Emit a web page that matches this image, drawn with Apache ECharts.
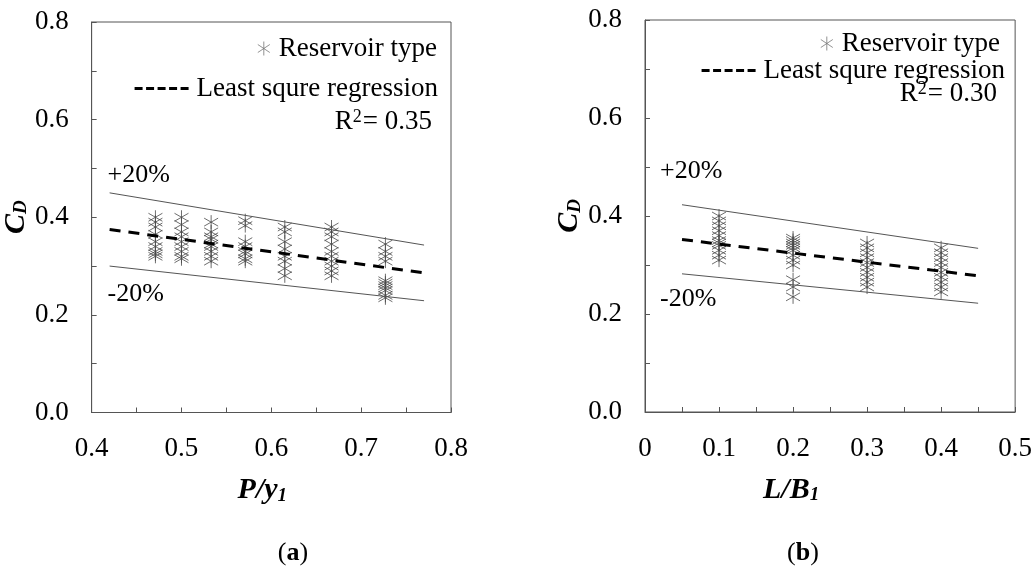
<!DOCTYPE html>
<html>
<head>
<meta charset="utf-8">
<script src="https://cdn.jsdelivr.net/npm/echarts@6/dist/echarts.min.js"></script>
<style>html,body{margin:0;padding:0;background:#fff}#c{width:1035px;height:572px}</style>
</head>
<body>
<div id="c"></div>
<script>
// ---------- DATA ----------
// Panel (a): C_D vs P/y1
const xA = [0.471, 0.5, 0.533, 0.571, 0.615, 0.667, 0.727];
const cdA = [
  [0.40, 0.39, 0.38, 0.365, 0.35, 0.34, 0.33, 0.325, 0.32],
  [0.40, 0.385, 0.37, 0.36, 0.35, 0.34, 0.33, 0.32, 0.315],
  [0.39, 0.37, 0.36, 0.355, 0.345, 0.34, 0.33, 0.32, 0.31],
  [0.393, 0.383, 0.35, 0.34, 0.33, 0.325, 0.315, 0.31],
  [0.38, 0.37, 0.35, 0.335, 0.32, 0.31, 0.295, 0.28],
  [0.38, 0.37, 0.36, 0.345, 0.33, 0.32, 0.31, 0.30, 0.29, 0.28],
  [0.345, 0.33, 0.32, 0.31, 0.27, 0.265, 0.26, 0.255, 0.25, 0.24, 0.235]
];
const regXA = [0.42, 0.77];
const regYA = [0.375, 0.286];
const upYA = [0.450, 0.343];
const loYA = [0.300, 0.229];
const r2A = '0.35';

// Panel (b): C_D vs L/B1
const xB = [0.1, 0.2, 0.3, 0.4];
const cdB = [
  [0.40, 0.39, 0.38, 0.37, 0.36, 0.35, 0.345, 0.34, 0.33, 0.32, 0.31],
  [0.355, 0.35, 0.345, 0.34, 0.335, 0.33, 0.32, 0.31, 0.30, 0.27, 0.255, 0.235],
  [0.345, 0.335, 0.325, 0.315, 0.305, 0.295, 0.285, 0.275, 0.265, 0.255],
  [0.335, 0.325, 0.315, 0.305, 0.295, 0.285, 0.275, 0.265, 0.255, 0.245]
];
const regXB = [0.05, 0.45];
const regYB = [0.352, 0.278];
const upYB = [0.423, 0.334];
const loYB = [0.282, 0.222];
const r2B = '0.30';

const yTicks = [0, 0.2, 0.4, 0.6, 0.8];
const xTicksA = [0.4, 0.5, 0.6, 0.7, 0.8];
const xTicksB = [0, 0.1, 0.2, 0.3, 0.4, 0.5];

// ---------- STYLE ----------
const FONT = 'Liberation Serif';
const AX = '#555';
const MK = '#484848';
const star = 'path://M-6,-4L6,4M-6,4L6,-4M0,-7L0,7';
const dashIcon = 'path://M0,0h8v3h-8zM11.5,0h8v3h-8zM23,0h8v3h-8zM34.5,0h8v3h-8zM46,0h8v3h-8z';

function pts(xs, ys) {
  const out = [];
  xs.forEach((x, i) => ys[i].forEach(y => out.push([x, y])));
  return out;
}
function pairs(xs, ys) { return xs.map((x, i) => [x, ys[i]]); }
function near(v, list) { return list.some(t => Math.abs(t - v) < 1e-6); }

const nameRich = (pad) => ({
  m: { fontFamily: FONT, fontWeight: 'bold', fontStyle: 'italic', fontSize: 30, color: '#000' },
  s: { fontFamily: FONT, fontWeight: 'bold', fontStyle: 'italic', fontSize: 19, color: '#000', verticalAlign: 'bottom', padding: [pad, 0, 0, 0] }
});

function yAxis(gi) {
  return {
    type: 'value', gridIndex: gi, min: 0, max: 0.8, interval: 0.1,
    name: '{m|C}{s|D}', nameLocation: 'middle', nameGap: 31, nameRotate: 90,
    nameTextStyle: {
      fontFamily: FONT, fontWeight: 'bold', fontStyle: 'italic', fontSize: 30, color: '#000',
      rich: nameRich(8)
    },
    axisLine: { show: true, lineStyle: { color: AX, width: 1 } },
    axisTick: { show: true, inside: true, length: 5, lineStyle: { color: AX } },
    splitLine: { show: false },
    axisLabel: {
      margin: 23, fontFamily: FONT, fontSize: 27, color: '#000',
      formatter: v => near(v, yTicks) ? v.toFixed(1) : ''
    }
  };
}
function xAxis(gi, min, max, ticks, nm, fmt, shift) {
  return {
    type: 'value', gridIndex: gi, min: min, max: max, interval: 0.05,
    name: nm, nameLocation: 'middle', nameGap: 63,
    nameTextStyle: {
      fontFamily: FONT, fontWeight: 'bold', fontStyle: 'italic', fontSize: 30, color: '#000',
      padding: [0, shift, 0, 0],
      rich: nameRich(10)
    },
    axisLine: { show: true, onZero: false, lineStyle: { color: AX, width: 1 } },
    axisTick: { show: true, inside: true, length: 5, lineStyle: { color: AX } },
    splitLine: { show: false },
    axisLabel: {
      margin: 23, fontFamily: FONT, fontSize: 27, color: '#000',
      formatter: v => near(v, ticks) ? fmt(v) : ''
    }
  };
}
function scatter(xi, yi, data) {
  return {
    name: 'Reservoir type', type: 'scatter', xAxisIndex: xi, yAxisIndex: yi,
    symbol: star, symbolSize: [14, 14], data: data, z: 2,
    itemStyle: { color: 'rgba(0,0,0,0)', borderColor: MK, borderWidth: 1 },
    emphasis: { disabled: true }
  };
}
function band(xi, yi, data, txt, pos, off) {
  return {
    name: txt, type: 'line', xAxisIndex: xi, yAxisIndex: yi, data: data, z: 3,
    symbol: 'none', silent: true,
    lineStyle: { color: '#555', width: 1 },
    markPoint: {
      symbol: 'circle', symbolSize: 0,
      data: [{ coord: data[0], value: txt }],
      label: {
        show: true, formatter: txt, position: pos, align: 'left', offset: off,
        fontFamily: FONT, fontSize: 26, color: '#000'
      }
    }
  };
}
function reg(xi, yi, data) {
  return {
    name: 'Least squre regression', type: 'line', xAxisIndex: xi, yAxisIndex: yi, data: data, z: 5,
    symbol: 'none', silent: true,
    lineStyle: { color: '#000', width: 3, type: [11, 8] }
  };
}
function legend(name, right, top, icon, w, h) {
  return {
    data: [name], right: right, top: top, orient: 'vertical', selectedMode: false,
    icon: icon, itemWidth: w, itemHeight: h, padding: 0,
    itemStyle: name === 'Reservoir type'
      ? { color: 'rgba(0,0,0,0)', borderColor: '#777', borderWidth: 1 }
      : { color: '#000', borderWidth: 0 },
    textStyle: { fontFamily: FONT, fontSize: 27, color: '#000', padding: [0, 0, 0, 3] }
  };
}
function r2Text(x, y, val) {
  return {
    type: 'text', x: x, y: y,
    style: {
      text: 'R{sup|2}= ' + val, textAlign: 'right', textVerticalAlign: 'middle',
      fontFamily: FONT, fontSize: 27, fill: '#000',
      rich: { sup: { fontFamily: FONT, fontSize: 18, fill: '#000', verticalAlign: 'top', padding: [0, 1, 10, 0] } }
    }
  };
}
function caption(x, y, letter) {
  return {
    type: 'text', x: x, y: y,
    style: {
      text: '({b|' + letter + '})', textAlign: 'center', textVerticalAlign: 'middle',
      fontFamily: FONT, fontSize: 26, fill: '#000',
      rich: { b: { fontFamily: FONT, fontSize: 26, fontWeight: 'bold', fill: '#000' } }
    }
  };
}

const chart = echarts.init(document.getElementById('c'), null, { renderer: 'canvas' });
chart.setOption({
  animation: false,
  backgroundColor: '#fff',
  grid: [
    { left: 90, right: 584, top: 22, bottom: 159.5, show: true, borderColor: AX, borderWidth: 1, containLabel: false },
    { left: 645, right: 18, top: 20, bottom: 160, show: true, borderColor: AX, borderWidth: 1, containLabel: false }
  ],
  xAxis: [
    xAxis(0, 0.4, 0.8, xTicksA, '{m|P/y}{s|1}', v => v.toFixed(1), 18),
    xAxis(1, 0, 0.5, xTicksB, '{m|L/B}{s|1}', v => (v === 0 ? '0' : v.toFixed(1)), 78)
  ],
  yAxis: [yAxis(0), yAxis(1)],
  legend: [
    legend('Reservoir type', 598, 35, star, 14, 14),
    legend('Least squre regression', 597, 75, dashIcon, 54, 3),
    legend('Reservoir type', 35, 30, star, 14, 14),
    legend('Least squre regression', 30, 57, dashIcon, 54, 3)
  ],
  series: [
    scatter(0, 0, pts(xA, cdA)),
    band(0, 0, pairs(regXA, upYA), '+20%', 'top', [-2, 0]),
    band(0, 0, pairs(regXA, loYA), '-20%', 'bottom', [-2, 10]),
    reg(0, 0, pairs(regXA, regYA)),
    scatter(1, 1, pts(xB, cdB)),
    band(1, 1, pairs(regXB, upYB), '+20%', 'top', [-22, -16]),
    band(1, 1, pairs(regXB, loYB), '-20%', 'bottom', [-22, 7]),
    reg(1, 1, pairs(regXB, regYB))
  ],
  graphic: [
    r2Text(432, 122, r2A),
    r2Text(997, 94, r2B),
    caption(293, 553, 'a'),
    caption(803, 553, 'b')
  ]
});
</script>
</body>
</html>
